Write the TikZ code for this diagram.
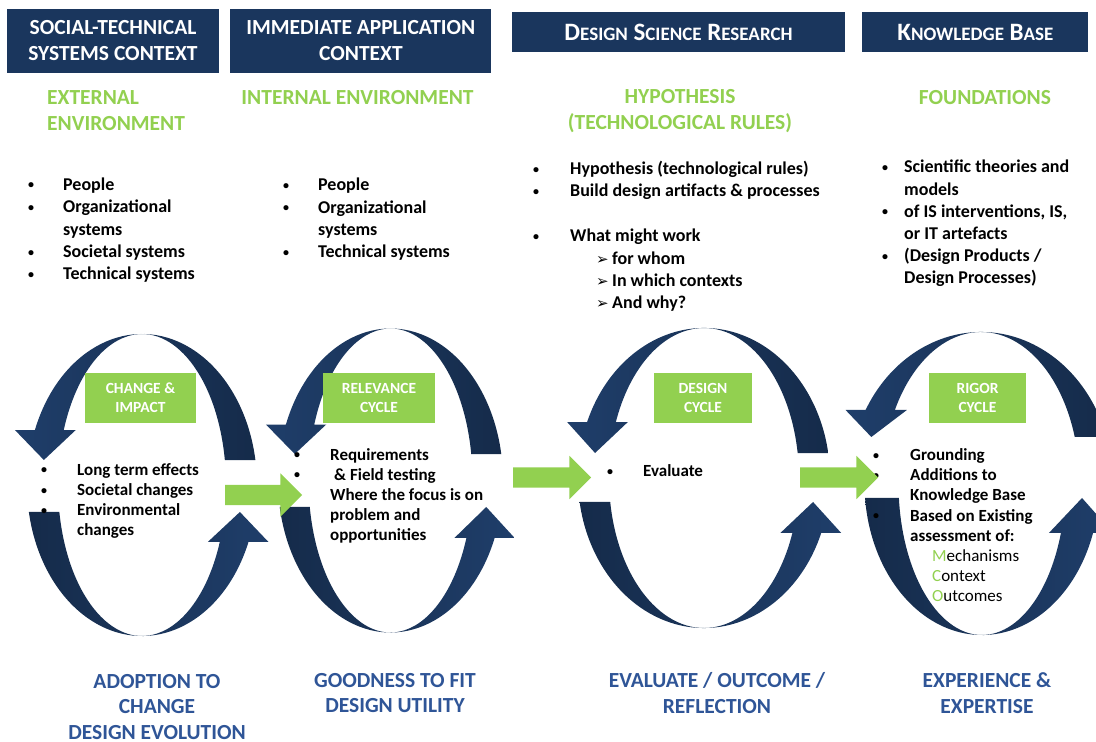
\documentclass[tikz,border=0pt]{standalone}
\usepackage{fontspec}
\setmainfont{Carlito}
\newfontfamily\symfont{DejaVu Sans}
\usepackage{tikz}
\usetikzlibrary{shapes.arrows,calc,positioning}
\definecolor{navy}{RGB}{26, 54, 93}
\definecolor{cycledark}{RGB}{21, 43, 74}
\definecolor{cyclelight}{RGB}{31, 62, 106}
\definecolor{leaf}{RGB}{146, 208, 80}
\definecolor{steel}{RGB}{47, 85, 151}
\tikzstyle{hdr} = [rectangle, fill=navy, text=white, align=center, inner sep=0pt, font=\bfseries\fontsize{21.5}{26}\selectfont]
\tikzstyle{hdrsc} = [hdr, font=\bfseries\fontsize{25}{30}\selectfont]
\tikzstyle{greenhead} = [text=leaf, inner sep=0pt, font=\bfseries\fontsize{21.5}{26}\selectfont]
\tikzstyle{tag} = [rectangle, fill=leaf, text=white, align=center, inner sep=0pt, minimum height=50pt, font=\bfseries\fontsize{15.5}{19}\selectfont]
\tikzstyle{toplist} = [anchor=base west, align=left, inner sep=0pt, font=\bfseries\fontsize{18}{22.4}\selectfont]
\tikzstyle{cyclist} = [anchor=base west, align=left, inner sep=0pt, font=\bfseries\fontsize{17}{20.2}\selectfont]
\tikzstyle{outcome} = [text=steel, align=center, inner sep=0pt, font=\bfseries\fontsize{21.5}{25.5}\selectfont]
\tikzstyle{flow} = [single arrow, fill=leaf, inner xsep=0pt, inner ysep=10pt, minimum height=78pt, single arrow head extend=11.5pt, single arrow tip angle=90]
\tikzstyle{uparc} = [left color=cyclelight, right color=cycledark]
\tikzstyle{downarc} = [left color=cycledark, right color=cyclelight]
\newcommand{\bul}[1]{\makebox[#1][l]{\raisebox{1.5pt}{\fontsize{12}{12}\selectfont\textbullet}}}
\newcommand{\hang}[1]{\hspace*{#1}}
\newcommand{\fsc}[2]{#1{\fontsize{19}{30}\selectfont #2}}
\newcommand{\subarr}{\hspace*{26pt}\makebox[16pt][l]{\symfont\fontsize{15}{15}\selectfont ➢}}
% one half of a cycle: style, turn (0 top, 180 bottom), cx, cy, outer rx, inner rx, ry, tail, head base
\newcommand{\cyclearrow}[9]{%
  \pgfmathsetmacro{\tailang}{#2+asin(#8/#7)}%
  \pgfmathsetmacro{\headang}{#2+180-asin(#9/#7)}%
  \pgfmathsetmacro{\tipang}{#2+180-asin(#8/#7)}%
  \pgfmathsetmacro{\midrx}{(#5+#6)/2}%
  \pgfmathsetmacro{\dirx}{cos(#2)}%
  \path[#1] ($(#3,#4)+({\tailang}:{#6} and {#7})$)
    arc[start angle=\tailang, end angle=\headang, x radius=#6, y radius=#7]
    -- ++({12*\dirx},0)
    -- ($(#3,#4)+({\tipang}:{\midrx} and {#7})$)
    -- ($(#3,#4)+({\headang}:{#5} and {#7})+({-20*\dirx},0)$)
    -- ($(#3,#4)+({\headang}:{#5} and {#7})$)
    arc[start angle=\headang, end angle=\tailang, x radius=#5, y radius=#7]
    -- cycle;
}

\begin{document}
\begin{tikzpicture}[x=1pt, y=1pt]
\useasboundingbox (0,0) rectangle (1096,742);
\clip (0,0) rectangle (1096,742);

% cycles =============================
\cyclearrow{uparc}{0}{142}{257}{115}{84}{151}{25}{55}
\cyclearrow{downarc}{180}{142}{257}{115}{84}{151}{27}{57}
\cyclearrow{uparc}{0}{390.5}{261.5}{112.5}{82}{152}{26.5}{56}
\cyclearrow{downarc}{180}{390.5}{261.5}{112.5}{82}{152}{26.5}{57.5}
\cyclearrow{uparc}{0}{704}{264}{126}{95}{150}{25}{56}
\cyclearrow{downarc}{180}{704}{264}{126}{95}{150}{24}{55}
\cyclearrow{uparc}{0}{981}{258.5}{132}{98.5}{151.5}{46.5}{73.5}
\cyclearrow{downarc}{180}{982}{258.5}{117.5}{83.5}{151.5}{14.5}{49.5}

% headers
\node[hdr, minimum width=212pt, minimum height=64pt] (ctxsocial) at (113,701) {SOCIAL-TECHNICAL\\SYSTEMS CONTEXT};
\node[hdr, minimum width=261pt, minimum height=64pt, right=11pt of ctxsocial] (ctxapp) {IMMEDIATE APPLICATION\\CONTEXT};
\node[hdrsc, minimum width=333pt, minimum height=40pt] (ctxdsr) at (678.5,710) {\fsc{D}{ESIGN} \fsc{S}{CIENCE} \fsc{R}{ESEARCH}};
\node[hdrsc, minimum width=226pt, minimum height=40pt, right=17pt of ctxdsr] (ctxkb) {\fsc{K}{NOWLEDGE} \fsc{B}{ASE}};

% environments
\node[greenhead, align=left, anchor=west] (extenv) at (47,631) {EXTERNAL\\ENVIRONMENT};
\node[greenhead] (intenv) at (357.5,644) {INTERNAL ENVIRONMENT};
\node[greenhead, align=center] (hypo) at (680,631) {HYPOTHESIS\\(TECHNOLOGICAL RULES)};
\node[greenhead] (found) at (985,644) {FOUNDATIONS};

% top lists (base = last line)
\node[toplist] (extlist) at (28,462) {\bul{35pt}People\\ \bul{35pt}Organizational\\ \hang{35pt}systems\\ \bul{35pt}Societal systems\\ \bul{35pt}Technical systems};
\node[toplist] (intlist) at (283,484) {\bul{35pt}People\\ \bul{35pt}Organizational\\ \hang{35pt}systems\\ \bul{35pt}Technical systems};
\node[toplist] (hypolist) at (533,433) {\bul{37pt}Hypothesis (technological rules)\\ \bul{37pt}Build design artifacts \& processes\\[22.4pt] \bul{37pt}What might work\\ \hang{37pt}\subarr for whom\\ \hang{37pt}\subarr In which contexts\\ \hang{37pt}\subarr And why?};
\node[toplist, font=\bfseries\fontsize{18}{22.2}\selectfont] (foundlist) at (882,458) {\bul{22pt}Scientific theories and\\ \hang{22pt}models\\ \bul{22pt}of IS interventions, IS,\\ \hang{22pt}or IT artefacts\\ \bul{22pt}(Design Products /\\ \hang{22pt}Design Processes)};

% cycle labels
\node[tag, minimum width=111pt] (tagimpact) at (140.5,344) {CHANGE \&\\IMPACT};
\node[tag, minimum width=112pt] (tagrel) at (379,344) {RELEVANCE\\CYCLE};
\node[tag, minimum width=98pt] (tagdesign) at (703,344) {DESIGN\\CYCLE};
\node[tag, minimum width=97pt] (tagrigor) at (977.5,344) {RIGOR\\CYCLE};

% cycle lists
\node[cyclist] (impactlist) at (41,206) {\bul{36pt}Long term effects\\ \bul{36pt}Societal changes\\ \bul{36pt}Environmental\\ \hang{36pt}changes};
\node[cyclist] (rellist) at (294,201) {\bul{36pt}Requirements\\ \bul{36pt}\hang{4pt}\& Field testing\\ \hang{36pt}Where the focus is on\\ \hang{36pt}problem and\\ \hang{36pt}opportunities};
\node[cyclist] (designlist) at (607,265) {\bul{36pt}Evaluate};
\node[cyclist] (rigorlist) at (873,140) {\bul{37pt}Grounding\\ \bul{37pt}Additions to\\ \hang{37pt}Knowledge Base\\ \bul{37pt}Based on Existing\\ \hang{37pt}assessment of:\\ \hang{59pt}{\mdseries\textcolor{leaf}{M}echanisms}\\ \hang{59pt}{\mdseries\textcolor{leaf}{C}ontext}\\ \hang{59pt}{\mdseries\textcolor{leaf}{O}utcomes}};

% flow arrows
\node[flow, minimum height=77pt] (flowa) at (258.5,247) {};
\node[flow] (flowb) at (547,264.5) {};
\node[flow] (flowc) at (834,264.5) {};

% outcomes
\node[outcome] (outadopt) at (157,35) {ADOPTION TO\\CHANGE\\DESIGN EVOLUTION};
\node[outcome] (outfit) at (395,49) {GOODNESS TO FIT\\DESIGN UTILITY};
\node[outcome] (outeval) at (717,49) {EVALUATE / OUTCOME /\\REFLECTION};
\node[outcome] (outexp) at (987,49) {EXPERIENCE \&\\EXPERTISE};

\end{tikzpicture}
\end{document}
